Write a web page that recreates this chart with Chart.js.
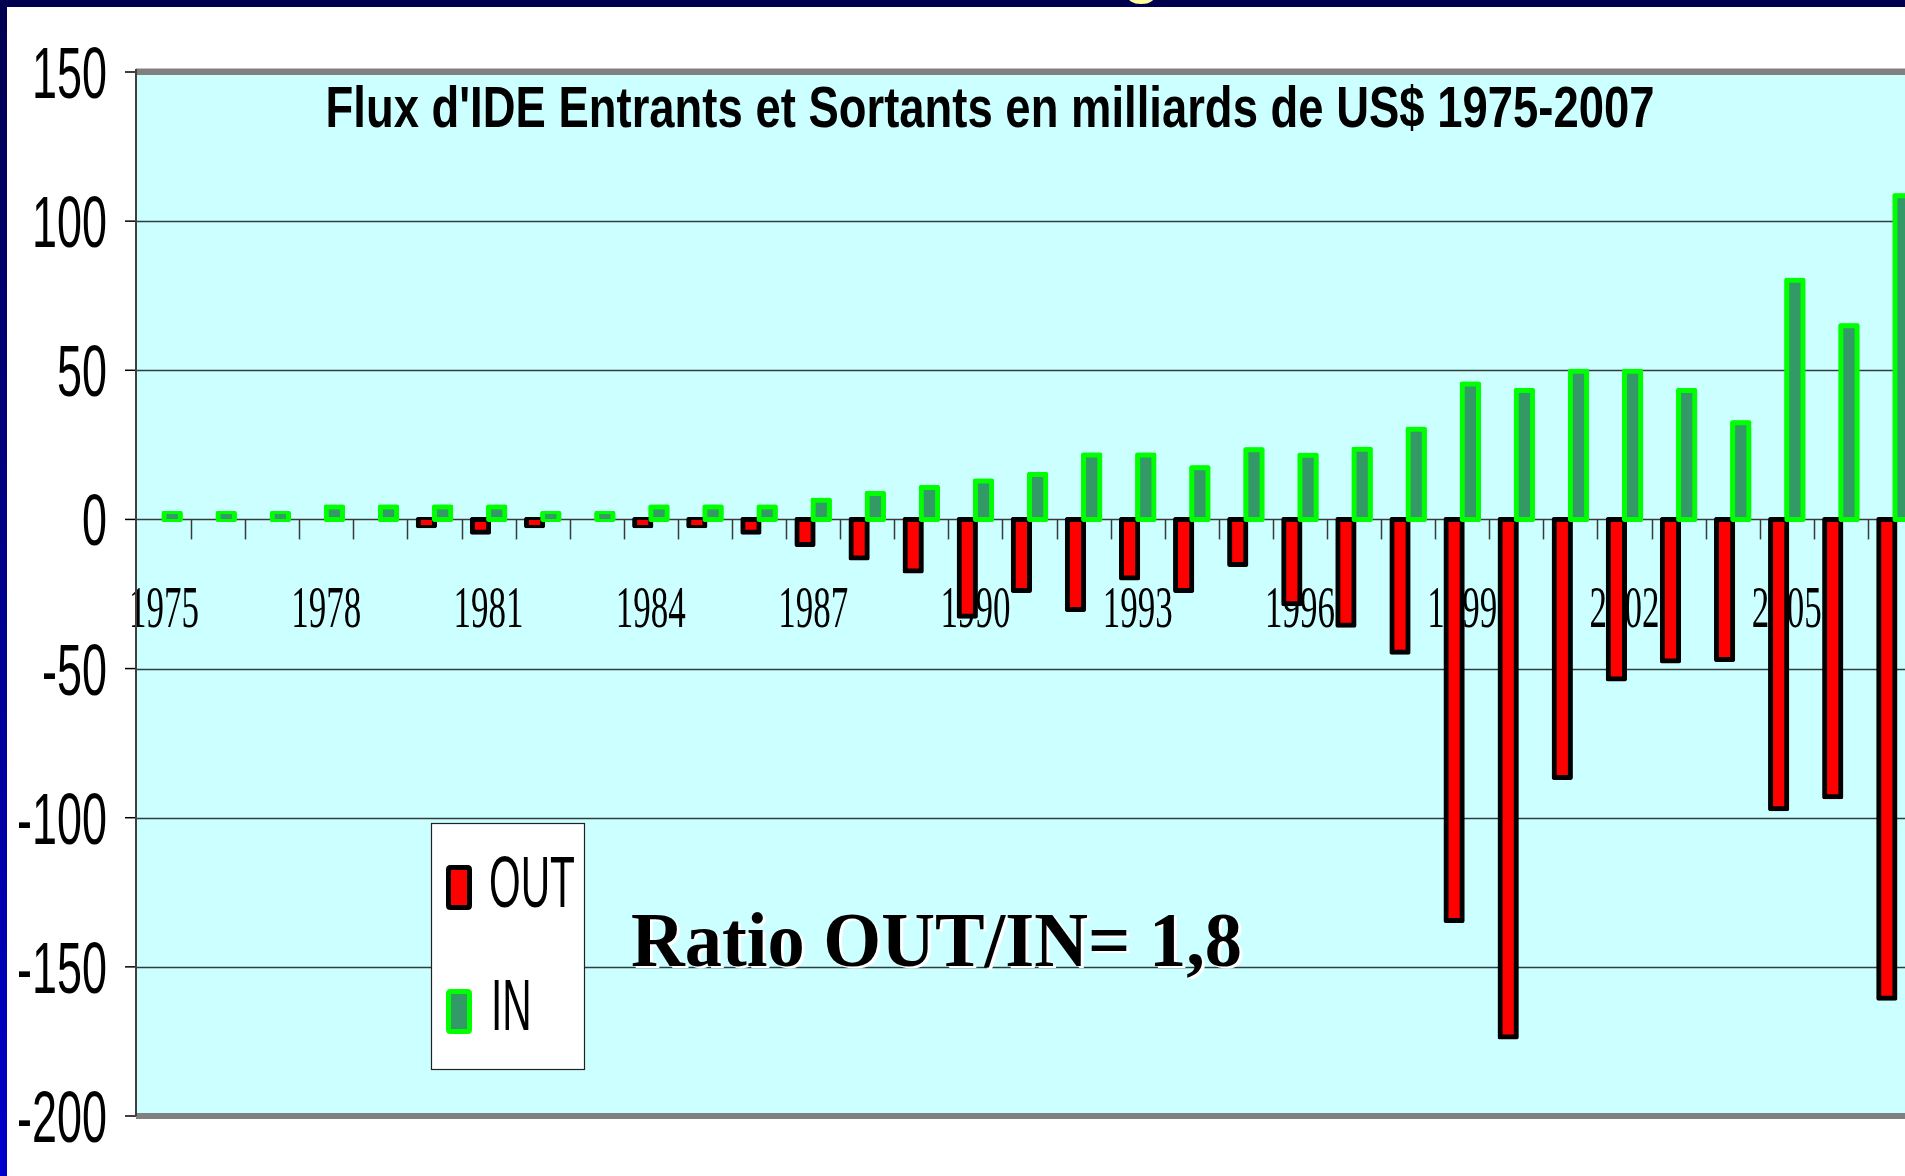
<!DOCTYPE html>
<html>
<head>
<meta charset="utf-8">
<title>Flux d'IDE Entrants et Sortants 1975-2007</title>
<script src="https://cdn.jsdelivr.net/npm/chart.js@4/dist/chart.umd.min.js"></script>
<style>
  html, body { margin: 0; padding: 0; background: #ffffff; overflow: hidden; }
  #wrap { position: absolute; left: 0; top: 0; width: 1960px; height: 1176px; }
  canvas { display: block; }
</style>
</head>
<body>
<div id="wrap"><canvas id="chart" width="1960" height="1176"></canvas></div>
<script>
// Years on the category axis
const years = ['1975','1976','1977','1978','1979','1980','1981','1982','1983','1984','1985',
               '1986','1987','1988','1989','1990','1991','1992','1993','1994','1995','1996',
               '1997','1998','1999','2000','2001','2002','2003','2004','2005','2006','2007'];

// Outward FDI (drawn below zero), billions of US$
const outFlows = [null, null, null, null, null, -2.1, -4.3, -2.1, null, -2.1, -2.1,
                  -4.3, -8.4, -12.9, -17.3, -32.5, -23.8, -30.2, -19.6, -23.8, -15.1, -28.3,
                  -35.5, -44.5, -134.5, -173.5, -86.5, -53.5, -47.5, -47, -97, -93, -160.5];

// Inward FDI, billions of US$
const inFlows = [2, 2, 2, 4.2, 4.2, 4.2, 4.2, 2, 2, 4.2, 4.2,
                 4.2, 6.4, 8.7, 10.7, 12.9, 15.1, 21.6, 21.6, 17.3, 23.4, 21.5,
                 23.5, 30.2, 45.4, 43.2, 49.7, 49.7, 43.2, 32.4, 80.2, 64.9, 108.5];

const seriesNames = ['OUT', 'IN'];
const yTicks = [150, 100, 50, 0, -50, -100, -150, -200];
const xTickLabels = ['1975','1978','1981','1984','1987','1990','1993','1996','1999','2002','2005'];
const titleText = "Flux d'IDE Entrants et Sortants en milliards de US$ 1975-2007";
const ratioText = 'Ratio OUT/IN= 1,8';

const OUT_FILL = '#FF0000', OUT_EDGE = '#000000';
const IN_FILL = '#339966', IN_EDGE = '#00FF00';

// Draw text squeezed horizontally by factor sx
function squeezed(ctx, text, x, base, font, sx, align, color) {
  ctx.save();
  ctx.font = font;
  ctx.fillStyle = color || '#000';
  ctx.textAlign = align || 'left';
  ctx.textBaseline = 'alphabetic';
  ctx.translate(x, base);
  ctx.scale(sx, 1);
  ctx.fillText(text, 0, 0);
  ctx.restore();
}
function fitScale(ctx, text, font, width) {
  ctx.save();
  ctx.font = font;
  const w = ctx.measureText(text).width;
  ctx.restore();
  return width / w;
}
function roundRect(ctx, x, y, w, h, r) {
  ctx.beginPath();
  ctx.moveTo(x + r, y);
  ctx.lineTo(x + w - r, y); ctx.quadraticCurveTo(x + w, y, x + w, y + r);
  ctx.lineTo(x + w, y + h - r); ctx.quadraticCurveTo(x + w, y + h, x + w - r, y + h);
  ctx.lineTo(x + r, y + h); ctx.quadraticCurveTo(x, y + h, x, y + h - r);
  ctx.lineTo(x, y + r); ctx.quadraticCurveTo(x, y, x + r, y);
  ctx.closePath();
}

const decorations = {
  id: 'decorations',
  beforeDraw(chart) {
    const ctx = chart.ctx;
    const { left, right, top, bottom } = chart.chartArea;
    const xs = chart.scales.x, ys = chart.scales.y;
    const zeroY = ys.getPixelForValue(0);
    ctx.save();

    // page background and slide frame
    ctx.fillStyle = '#ffffff';
    ctx.fillRect(0, 0, chart.width, chart.height);
    const side = ctx.createLinearGradient(0, 0, 0, chart.height);
    side.addColorStop(0, '#000050');
    side.addColorStop(0.5, '#00008C');
    side.addColorStop(1, '#0000CC');
    ctx.fillStyle = side;
    ctx.fillRect(0, 0, 7, chart.height);
    ctx.fillStyle = '#000050';
    ctx.fillRect(0, 0, chart.width, 7);
    // descender of the slide heading
    ctx.font = 'bold 62px "Liberation Sans", Arial, sans-serif';
    ctx.fillStyle = '#FFFF99';
    ctx.textAlign = 'center';
    ctx.textBaseline = 'alphabetic';
    ctx.fillText('g', 1142, -9);

    // plot area
    ctx.fillStyle = '#CCFFFF';
    ctx.fillRect(left, top, right - left, bottom - top);

    // horizontal gridlines
    ctx.strokeStyle = '#333c3c';
    ctx.lineWidth = 1.5;
    yTicks.forEach(v => {
      if (v === 0 || v === yTicks[0] || v === yTicks[yTicks.length - 1]) return;
      const py = Math.round(ys.getPixelForValue(v)) + 0.5;
      ctx.beginPath(); ctx.moveTo(left, py); ctx.lineTo(right, py); ctx.stroke();
    });

    // year labels under the bars
    const xFont = '60px "Liberation Serif", "Times New Roman", serif';
    const xsx = fitScale(ctx, '1975', xFont, 70);
    xTickLabels.forEach(lbl => {
      const px = xs.getPixelForValue(years.indexOf(lbl));
      squeezed(ctx, lbl, px, zeroY + 108, xFont, xsx, 'center', '#000');
    });

    // category axis at zero with tick marks between categories
    ctx.strokeStyle = '#3a3a3a';
    ctx.lineWidth = 1.5;
    ctx.beginPath(); ctx.moveTo(left, zeroY); ctx.lineTo(right, zeroY); ctx.stroke();
    for (let i = 0; i < years.length - 1; i++) {
      const bx = Math.round((xs.getPixelForValue(i) + xs.getPixelForValue(i + 1)) / 2) + 0.5;
      ctx.beginPath(); ctx.moveTo(bx, zeroY); ctx.lineTo(bx, zeroY + 20); ctx.stroke();
    }

    // value axis: ticks and labels
    ctx.strokeStyle = '#000';
    ctx.lineWidth = 1.5;
    const yFont = '72px "Liberation Sans", Arial, sans-serif';
    const ysx = fitScale(ctx, '150', yFont, 75);
    yTicks.forEach(v => {
      const py = ys.getPixelForValue(v);
      ctx.beginPath(); ctx.moveTo(left - 12, py); ctx.lineTo(left, py); ctx.stroke();
      squeezed(ctx, String(v), 107, py + 26, yFont, ysx, 'right', '#000');
    });

    // plot frame
    ctx.fillStyle = '#808080';
    ctx.fillRect(left - 1, top - 3, right - left + 1, 6);
    ctx.fillRect(left - 1, bottom - 3, right - left + 1, 6);
    ctx.fillStyle = '#c0c0c0';
    ctx.fillRect(left - 1, top - 4, right - left + 1, 1);
    ctx.fillStyle = '#404040';
    ctx.fillRect(left - 2, top - 3, 2, bottom - top + 3);
    ctx.restore();
  },
  afterDatasetsDraw(chart) {
    const ctx = chart.ctx;
    const { left, right, top, bottom } = chart.chartArea;

    // inward bars sit over the outward ones where their edges meet
    ctx.save();
    ctx.beginPath();
    ctx.rect(left, top - 6, right - left, bottom - top + 12);
    ctx.clip();
    chart.getDatasetMeta(1).controller.draw();
    ctx.restore();

    // chart title
    const tFont = 'bold 58px "Liberation Sans", Arial, sans-serif';
    const tsx = fitScale(ctx, titleText, tFont, 1329);
    squeezed(ctx, titleText, 990, 127, tFont, tsx, 'center', '#000');

    // ratio annotation with a light offset shadow
    const rFont = 'bold 78px "Liberation Serif", "Times New Roman", serif';
    const rsx = fitScale(ctx, ratioText, rFont, 611);
    squeezed(ctx, ratioText, 634, 968, rFont, rsx, 'left', '#ffffff');
    squeezed(ctx, ratioText, 631, 966, rFont, rsx, 'left', '#000000');

    // legend box
    ctx.save();
    ctx.fillStyle = '#ffffff';
    ctx.fillRect(431, 823, 154, 247);
    ctx.strokeStyle = '#222';
    ctx.lineWidth = 1.2;
    ctx.strokeRect(431.5, 823.5, 153, 246);
    const ds = chart.data.datasets;
    const lFont = '72px "Liberation Sans", Arial, sans-serif';
    const lsx = fitScale(ctx, 'OUT', lFont, 86);
    const rows = [{ y: 865, base: 907, tx: 489 }, { y: 989, base: 1030, tx: 491 }];
    ds.forEach((d, i) => {
      const r = rows[i];
      roundRect(ctx, 448.5, r.y + 2.5, 21, 40, 2);
      ctx.fillStyle = d.backgroundColor;
      ctx.fill();
      ctx.lineWidth = 5;
      ctx.strokeStyle = d.borderColor;
      ctx.stroke();
      squeezed(ctx, d.label, r.tx, r.base, lFont, lsx, 'left', '#000');
    });
    ctx.restore();
  }
};

new Chart(document.getElementById('chart'), {
  type: 'bar',
  data: {
    labels: years,
    datasets: [
      { label: seriesNames[0], data: outFlows, backgroundColor: OUT_FILL, borderColor: OUT_EDGE },
      { label: seriesNames[1], data: inFlows, backgroundColor: IN_FILL, borderColor: IN_EDGE }
    ]
  },
  options: {
    responsive: false,
    devicePixelRatio: 1,
    animation: false,
    events: [],
    layout: { padding: { left: 137, right: 38, top: 72, bottom: 60 } },
    datasets: {
      bar: {
        categoryPercentage: 0.6,
        barPercentage: 1.0,
        borderWidth: 5,
        borderSkipped: false,
        borderRadius: 2,
        inflateAmount: 2.5
      }
    },
    scales: {
      x: { type: 'category', display: false, offset: true },
      y: { type: 'linear', display: false, min: -200, max: 150 }
    },
    plugins: {
      legend: { display: false },
      title: { display: false },
      tooltip: { enabled: false }
    }
  },
  plugins: [decorations]
});
</script>
</body>
</html>
